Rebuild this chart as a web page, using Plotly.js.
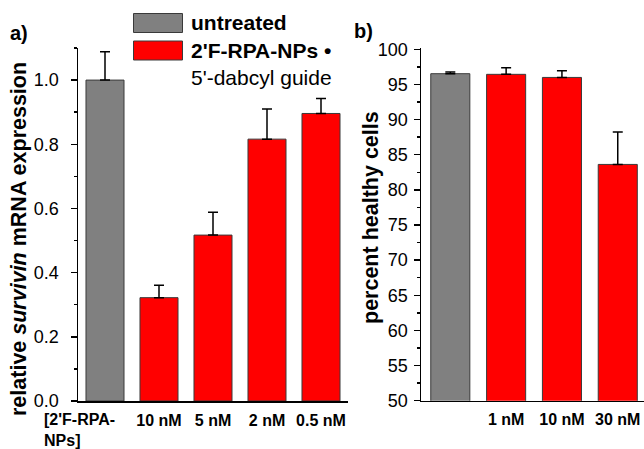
<!DOCTYPE html>
<html>
<head>
<meta charset="utf-8">
<script src="https://cdn.plot.ly/plotly-3.0.1.min.js"></script>
<style>html,body{margin:0;padding:0;background:#fff;}#chart{width:644px;height:449px;}</style>
</head>
<body>
<div id="chart"></div>
<script>
// Panel a) data
const leftCats = ["[2'F-RPA-NPs]", "10 nM", "5 nM", "2 nM", "0.5 nM"];
const leftValues = [1.0, 0.322, 0.517, 0.816, 0.896];
const leftErrors = [0.088, 0.039, 0.071, 0.094, 0.047];
// Panel b) data
const rightCats = ["untreated", "1 nM", "10 nM", "30 nM"];
const rightValues = [96.53, 96.44, 96.0, 83.62];
const rightErrors = [0.24, 0.94, 0.95, 4.6];
// Legend labels
const legendLabels = ["untreated", "2'F-RPA-NPs •", "5'-dabcyl guide"];

const GRAY = '#808080', RED = '#ff0000', EDGE = '#3a3a3a';
const FONT = 'Liberation Sans, Arial, Helvetica, sans-serif';
const colorsFor = n => Array.from({length: n}, (_, i) => i === 0 ? GRAY : RED);

const W = 644, H = 449;
const px = x => x / W;
const py = y => 1 - y / H;

const errStyle = (arr) => ({type: 'data', array: arr, arrayminus: arr.map(() => 0), symmetric: false,
  color: '#000', thickness: 1.5, width: 5});

const traces = [
  {type: 'bar', x: leftCats, y: leftValues, xaxis: 'x', yaxis: 'y', width: 0.704,
   marker: {color: colorsFor(leftCats.length), line: {color: EDGE, width: 1}},
   error_y: errStyle(leftErrors), hoverinfo: 'x+y'},
  {type: 'bar', x: rightCats, y: rightValues, xaxis: 'x2', yaxis: 'y2', width: 0.70,
   marker: {color: colorsFor(rightCats.length), line: {color: EDGE, width: 1}},
   error_y: errStyle(rightErrors), hoverinfo: 'x+y'}
];

const axisCommon = {showline: true, linecolor: '#000', linewidth: 1.5, showgrid: false, zeroline: false, fixedrange: true};

const layout = {
  width: W, height: H,
  margin: {l: 0, r: 0, t: 0, b: 0},
  paper_bgcolor: '#fff', plot_bgcolor: '#fff',
  showlegend: false,
  bargap: 0,
  font: {family: FONT, color: '#000'},
  xaxis: Object.assign({}, axisCommon, {
    domain: [px(78), px(348)], anchor: 'y', type: 'category', range: [-0.5, 4.5],
    tickvals: leftCats.slice(1), ticktext: leftCats.slice(1), ticks: '',
    tickfont: {family: FONT, size: 16, weight: 'bold', color: '#000'}, ticklabelstandoff: 4
  }),
  yaxis: Object.assign({}, axisCommon, {
    domain: [py(401), py(48)], anchor: 'x', range: [0, 1.1],
    tickmode: 'linear', tick0: 0, dtick: 0.2, tickformat: '.1f',
    ticks: 'outside', ticklen: 6, tickwidth: 1.5, tickcolor: '#000',
    minor: {ticks: 'outside', ticklen: 3, tickwidth: 1.5, tickcolor: '#000', dtick: 0.1, showgrid: false},
    tickfont: {family: FONT, size: 18, color: '#000'}, ticklabelstandoff: 8
  }),
  xaxis2: Object.assign({}, axisCommon, {
    domain: [px(421), 1], anchor: 'y2', type: 'category', range: [-0.525, 3.47],
    tickvals: rightCats.slice(1), ticktext: rightCats.slice(1), ticks: '',
    tickfont: {family: FONT, size: 16, weight: 'bold', color: '#000'}, ticklabelstandoff: 4
  }),
  yaxis2: Object.assign({}, axisCommon, {
    domain: [py(400.7), py(47.7)], anchor: 'x2', range: [50, 100.23],
    tickmode: 'linear', tick0: 50, dtick: 5,
    ticks: 'outside', ticklen: 6, tickwidth: 1.5, tickcolor: '#000',
    minor: {ticks: 'outside', ticklen: 3, tickwidth: 1.5, tickcolor: '#000', dtick: 2.5, showgrid: false},
    tickfont: {family: FONT, size: 18, color: '#000'}, ticklabelstandoff: 2
  }),
  shapes: [
    {type: 'rect', xref: 'paper', yref: 'paper', x0: px(133.5), x1: px(182.5), y0: py(32.5), y1: py(13.5),
     fillcolor: GRAY, line: {color: EDGE, width: 1}},
    {type: 'rect', xref: 'paper', yref: 'paper', x0: px(133.5), x1: px(182.5), y0: py(60), y1: py(41),
     fillcolor: RED, line: {color: EDGE, width: 1}}
  ],
  annotations: [
    {text: '<b>' + legendLabels[0] + '</b>', xref: 'paper', yref: 'paper', x: px(189), y: py(23), xanchor: 'left', yanchor: 'middle', showarrow: false, font: {size: 21, family: FONT}},
    {text: '<b>' + legendLabels[1] + '</b>', xref: 'paper', yref: 'paper', x: px(189), y: py(50), xanchor: 'left', yanchor: 'middle', showarrow: false, font: {size: 21, family: FONT}},
    {text: legendLabels[2], xref: 'paper', yref: 'paper', x: px(189), y: py(77), xanchor: 'left', yanchor: 'middle', showarrow: false, font: {size: 21, family: FONT}},
    {text: '<b>a)</b>', xref: 'paper', yref: 'paper', x: px(8), y: py(33), xanchor: 'left', yanchor: 'middle', showarrow: false, font: {size: 20, family: FONT}},
    {text: '<b>b)</b>', xref: 'paper', yref: 'paper', x: px(352), y: py(31), xanchor: 'left', yanchor: 'middle', showarrow: false, font: {size: 20, family: FONT}},
    {text: '<b>relative <i>survivin</i> mRNA expression</b>', xref: 'paper', yref: 'paper', x: px(19), y: py(239), xanchor: 'center', yanchor: 'middle', textangle: -90, showarrow: false, font: {size: 21.5, family: FONT}},
    {text: '<b>percent healthy cells</b>', xref: 'paper', yref: 'paper', x: px(371), y: py(218), xanchor: 'center', yanchor: 'middle', textangle: -90, showarrow: false, font: {size: 21.5, family: FONT}},
    {text: '<b>[2\'F-RPA-<br>NPs]</b>', xref: 'paper', yref: 'paper', x: px(42), y: py(430), xanchor: 'left', yanchor: 'middle', align: 'left', showarrow: false, font: {size: 16, family: FONT}}
  ]
};

Plotly.newPlot('chart', traces, layout, {displayModeBar: false, staticPlot: true});
</script>
</body>
</html>
